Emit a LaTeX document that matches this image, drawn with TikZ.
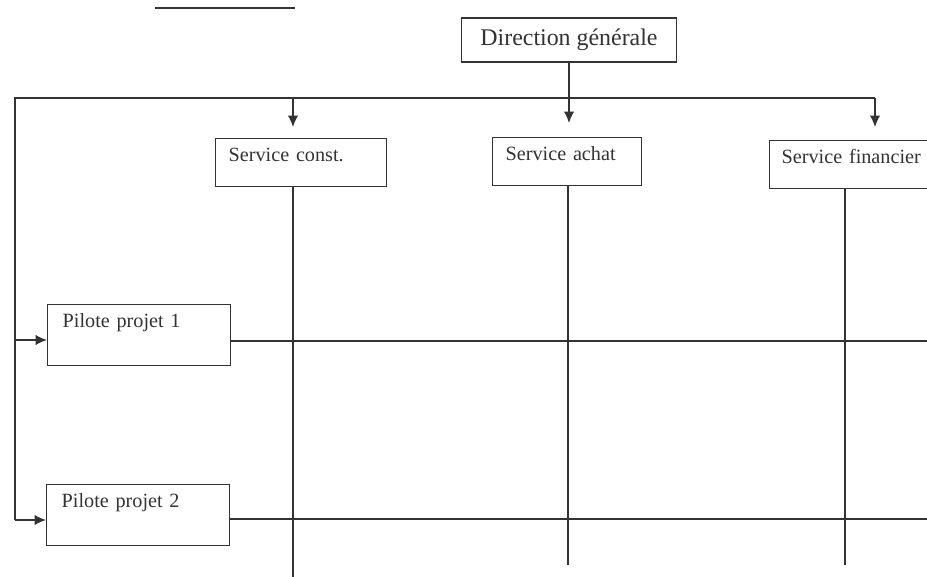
\documentclass[tikz,border=0pt]{standalone}
\usepackage{fontspec}
\setmainfont{Liberation Serif}
\usetikzlibrary{calc, positioning, arrows.meta}

\begin{document}
\begin{tikzpicture}[x=0.02cm,y=-0.02cm,-,auto,
                    main node/.style={rectangle,draw=black!80,line width=0.8pt,inner ysep=0pt,align=left,
                                      text=black!80,font=\fontsize{11.5}{13}\selectfont},
                    service node/.style={main node,anchor=north west,inner xsep=0.26cm,text height=0.46cm,text depth=0.5cm},
                    pilot node/.style={main node,anchor=north west,inner xsep=0.3cm,text width=3.06cm,
                                       text height=0.46cm,text depth=0.76cm},
                    line/.style={draw=black!80,line width=0.8pt},
                    arrow/.style={line,-{Latex[length=0.23cm,width=0.21cm]}}]

  \useasboundingbox (0,0) rectangle (927,577);

  \node[main node,align=center,minimum width=4.3cm,minimum height=0.88cm,
        font=\fontsize{13.6}{16}\selectfont] (dg) at (569,40) {Direction générale};

  \node[service node,text width=2.9cm] (sc) at (215,138) {Service const.};
  \node[service node,text width=2.46cm] (sa) at (492,137) {Service achat};
  \node[service node,text width=2.98cm,inner xsep=0.24cm] (sf) at (769,140) {Service financier};

  \node[pilot node] (p1) at (47,304) {Pilote projet 1};
  \node[pilot node] (p2) at (46,484) {Pilote projet 2};

  % bus and free ends
  \coordinate (t1) at (155,8);
  \coordinate (t2) at (295,8);
  \coordinate (bl) at (15,98);
  \coordinate (br) at (875,98);
  \coordinate (c1) at (293,98);
  \coordinate (l1) at (15,340);
  \coordinate (l2) at (15,520);
  \coordinate (b1) at (293,577);
  \coordinate (b2) at (568,565);
  \coordinate (b3) at (845,565);
  \coordinate (e1) at (927,341);
  \coordinate (e2) at (927,519);

  \draw[line] (t1) -- (t2);
  \draw[line] (l2) -- (bl) -- (br);

  \draw[arrow,shorten >=0.28cm] (dg.south) -- (dg.south |- sa.north);
  \draw[arrow,shorten >=0.22cm] (c1) -- (c1 |- sc.north);
  \draw[arrow,shorten >=0.26cm] (br) -- (br |- sf.north);
  \draw[arrow] (l1) -- (l1 -| p1.west);
  \draw[arrow] (l2) -- (l2 -| p2.west);

  \draw[line] (b1 |- sc.south) -- (b1);
  \draw[line] (b2 |- sa.south) -- (b2);
  \draw[line] (b3 |- sf.south) -- (b3);
  \draw[line] (e1 -| p1.east) -- (e1);
  \draw[line] (e2 -| p2.east) -- (e2);

\end{tikzpicture}
\end{document}
